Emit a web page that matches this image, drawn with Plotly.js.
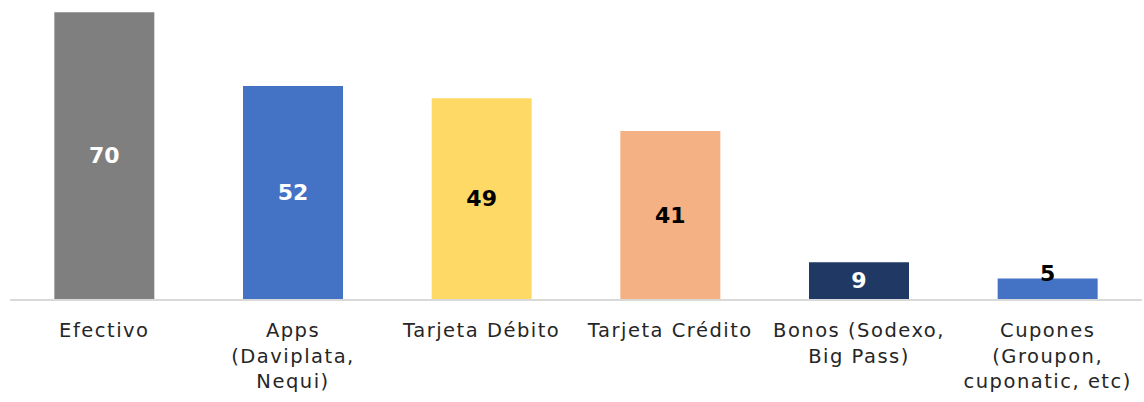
<!DOCTYPE html>
<html>
<head>
<meta charset="utf-8">
<script src="https://cdn.plot.ly/plotly-3.0.1.min.js"></script>
<style>html,body{margin:0;padding:0;background:#fff;}#chart{width:1144px;height:402px;}
.xtick text{letter-spacing:1.5px;}</style>
</head>
<body>
<div id="chart"></div>
<script>
const categories = ["Efectivo", "Apps<br>(Daviplata,<br>Nequi)", "Tarjeta Débito", "Tarjeta Crédito", "Bonos (Sodexo,<br>Big Pass)", "Cupones<br>(Groupon,<br>cuponatic, etc)"];
const values = [70, 52, 49, 41, 9, 5];
const barColors = ["#7f7f7f", "#4472c4", "#ffd966", "#f4b183", "#203864", "#4472c4"];
const labelColors = ["#ffffff", "#ffffff", "#000000", "#000000", "#ffffff", "#000000"];
const insideLabel = [true, true, true, true, true, false];

const trace = {
  type: "bar",
  x: categories,
  y: values,
  marker: {color: barColors, line: {width: 0}},
  text: values.map((v, i) => insideLabel[i] ? String(v) : ""),
  textposition: "inside",
  insidetextanchor: "middle",
  constraintext: "none",
  cliponaxis: false,
  textfont: {family: "DejaVu Sans", size: 22, color: labelColors, weight: "bold"},
  hoverinfo: "none"
};

const annotations = values.map((v, i) => insideLabel[i] ? null : {
  x: categories[i], y: v, xref: "x", yref: "y",
  text: String(v), showarrow: false, yanchor: "middle", yshift: 5,
  font: {family: "DejaVu Sans", size: 22, color: labelColors[i], weight: "bold"}
}).filter(a => a);

const layout = {
  width: 1144, height: 402,
  margin: {l: 10, r: 2, t: 0, b: 103},
  paper_bgcolor: "#ffffff", plot_bgcolor: "#ffffff",
  bargap: 0.47,
  showlegend: false,
  annotations: annotations,
  xaxis: {
    showline: true, linecolor: "#d9d9d9", linewidth: 2,
    ticks: "", showgrid: false, zeroline: false,
    ticklabelstandoff: 13,
    tickfont: {family: "DejaVu Sans", size: 19.5, color: "#262626"},
    tickangle: 0
  },
  yaxis: {
    range: [0, 73], visible: false, showgrid: false, zeroline: false
  }
};

Plotly.newPlot("chart", [trace], layout, {displayModeBar: false, staticPlot: true});
</script>
</body>
</html>
